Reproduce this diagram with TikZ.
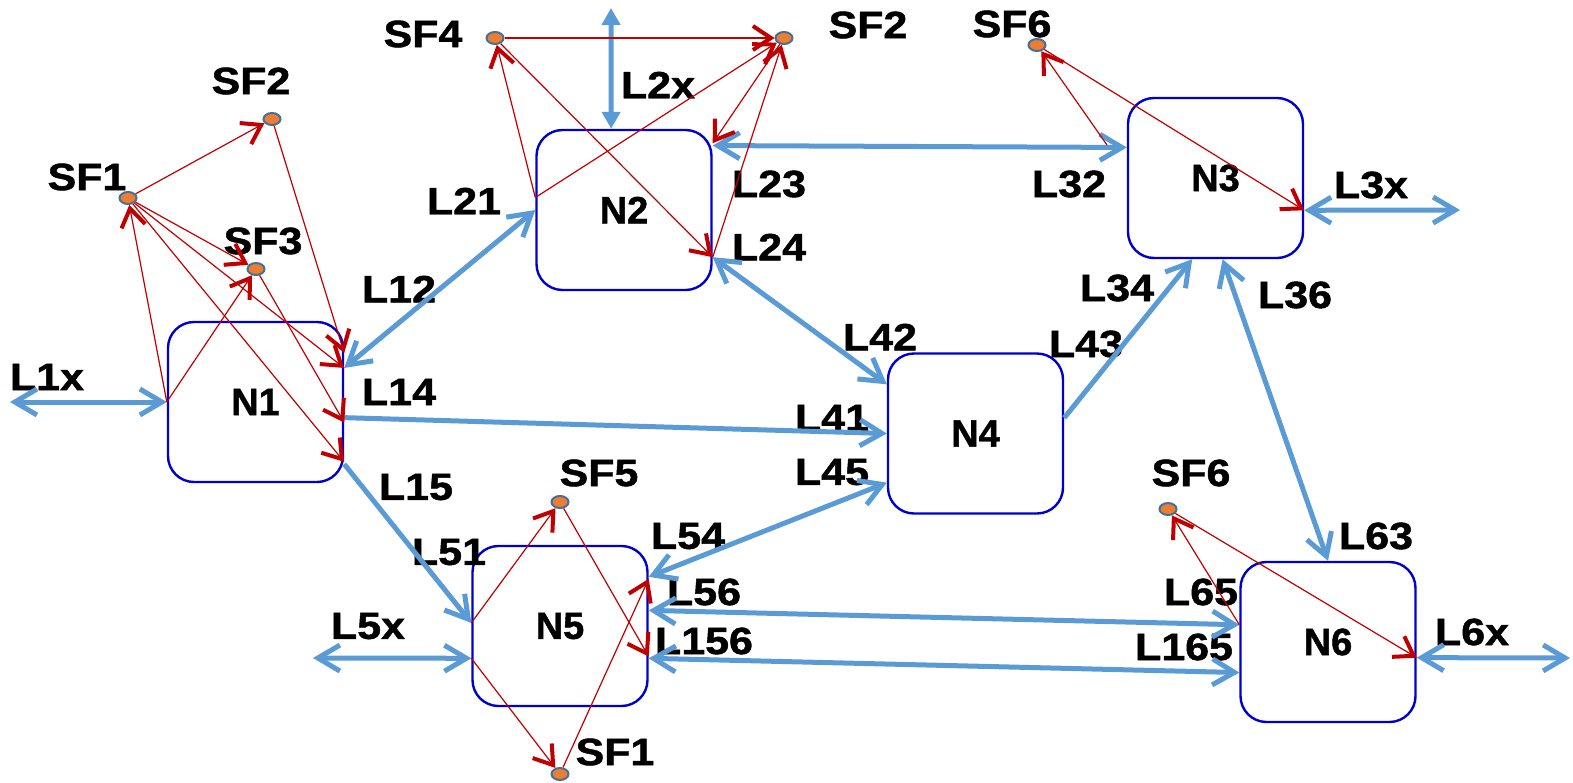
\documentclass[tikz,border=0pt]{standalone}
\usepackage{fontspec}
\setmainfont{Liberation Sans}[BoldFeatures={FakeBold=1.2}]
\usepackage{graphicx}
\usetikzlibrary{arrows.meta,shapes.geometric}
\definecolor{boxblue}{HTML}{0000CC}
\definecolor{linkblue}{HTML}{5B9BD5}
\definecolor{flowred}{HTML}{C00000}
\definecolor{dotorange}{HTML}{ED7D31}
\definecolor{dotrim}{HTML}{41719C}
\newcommand{\widelabel}[1]{\scalebox{1.13}[1]{#1}}
\begin{document}
\begin{tikzpicture}
[x=0.5pt,y=-0.5pt,font=\fontsize{19pt}{21pt}\selectfont\bfseries,
  boxdecorate/.style={shape=rectangle,draw=boxblue,line width=1.2pt,rounded corners=13pt,
    minimum width=87.5pt,minimum height=80pt,inner sep=0pt},%
  dotdecorate/.style={shape=ellipse,draw=dotrim,fill=dotorange,line width=1pt,
    minimum width=8.5pt,minimum height=6pt,inner sep=0pt},%
  labeldecorate/.style={inner sep=0pt},%
  linkdecorate/.style={draw=linkblue,line width=2.5pt,>={Straight Barb[length=11pt,width=13pt]},<->},%
  linkonedecorate/.style={linkdecorate,->},%
  updowndecorate/.style={draw=linkblue,line width=2.5pt,>={Triangle[length=8.5pt,width=9pt]},<->},%
  flowdecorate/.style={draw=flowred,line width=0.6pt,->,
    >={Straight Barb[length=9pt,width=12pt,line width=2pt]}}]
\useasboundingbox (0,0) rectangle (1573,782);
%% nodes or vertices
\foreach \nodename/\x/\y/\nodetext in {n1/255.5/402/N1, n2/624/210/N2, n3/1215.5/178/N3,
  n4/975.5/433.5/N4, n5/560/626/N5, n6/1328/642/N6} {
  \node (\nodename) at (\x,\y) [boxdecorate] {\nodetext};
}
%% service functions
\foreach \nodename/\x/\y in {sf1n1/128/198, sf2n1/272/119, sf3n1/256/269, sf4n2/495/38,
  sf2n2/784/38, sf6n3/1037/45, sf5n5/560/502, sf1n5/560/774, sf6n6/1168/509} {
  \node (\nodename) at (\x,\y) [dotdecorate] {};
}
%% free ends
\foreach \nodename/\x/\y in {l1x/10/402, l2x/611/8, l3x/1460/210, l5x/313/658,
  l6x/1570/658, f63/1107/145} {
  \coordinate (\nodename) at (\x,\y);
}
%% labels
\foreach \labelname/\x/\y/\labeltext in {t1x/47/377/L1x, tsf2a/251/81/SF2, tsf1a/87/177/SF1,
  tsf3a/263/241/SF3, tsf4/423/34/SF4, tsf2b/868/25/SF2, tsf6a/1012/24/SF6, t2x/658/85/L2x,
  t21/464/201/L21, t12/399/289/L12, t14/399/392/L14, t15/416/487/L15, t51/449/552/L51,
  t5x/368/626/L5x, tsf5/599/473/SF5, t54/688/536/L54, t56/704/592/L56, t156/704/641/L156,
  tsf1b/615/752/SF1, t42/880/337/L42, t41/832/418/L41, t45/832/472/L45, t23/769/184/L23,
  t24/769/247/L24, t32/1069/184/L32, t3x/1371/185/L3x, t34/1117/288/L34, t36/1295/295/L36,
  t43/1086/344/L43, tsf6b/1191/473/SF6, t63/1376/536/L63, t65/1201/592/L65,
  t165/1184/647/L165, t6x/1472/632/L6x} {
  \node (\labelname) at (\x,\y) [labeldecorate] {\widelabel{\labeltext}};
}
%% links
\path
\foreach \startnode/\endnode in {n1.21/n2.180, n2.36/n3.161, n2.332/n4.151, n3.275/n6.90,
  n5.29/n4.209, n5.10/n6.169, n5.340/n6.199, l1x/n1.180, n3.340/l3x, l5x/n5.200, n6.350/l6x} {
  (\startnode) edge[linkdecorate] (\endnode)
}
\foreach \startnode/\endnode in {n1.350/n4.180, n1.325/n5.178, n4.10/n3.254} {
  (\startnode) edge[linkonedecorate] (\endnode)
}
(l2x) edge[updowndecorate] (n2.99);
%% flows
\path
\foreach \startnode/\endnode in {sf1n1/sf2n1, n1.180/sf1n1, n1.180/sf3n1, sf1n1/sf3n1,
  sf2n1/n1.29, sf1n1/n1.21, sf3n1/n1.347, sf1n1/n1.326, sf4n2/sf2n2, n2.172/sf4n2,
  n2.172/sf2n2, sf4n2/n2.332, sf2n2/n2.37, n2.332/sf2n2, f63/sf6n3, sf6n3/n3.340,
  n5.178/sf5n5, sf5n5/n5.341, n5.200/sf1n5, sf1n5/n5.28, n6.169/sf6n6, sf6n6/n6.350} {
  (\startnode) edge[flowdecorate] (\endnode)
};
\end{tikzpicture}
\end{document}
